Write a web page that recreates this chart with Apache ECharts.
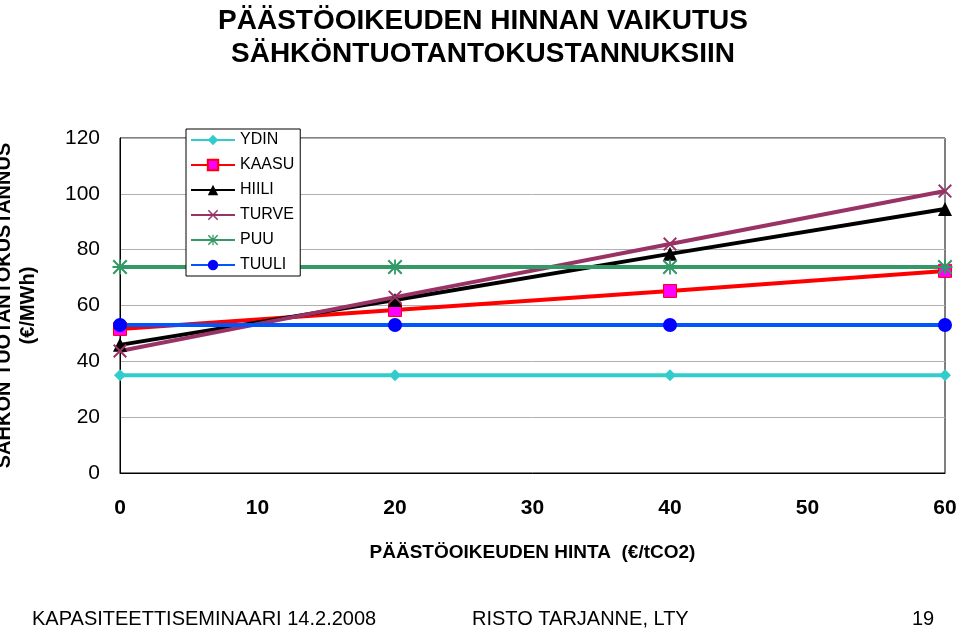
<!DOCTYPE html>
<html><head><meta charset="utf-8">
<script src="https://cdn.jsdelivr.net/npm/echarts@6/dist/echarts.min.js"></script>
<style>html,body{margin:0;padding:0;background:#fff}#c{width:960px;height:629px}</style>
</head><body><div id="c"></div>
<script>
const xValues = [0, 20, 40, 60];
const seriesNames = ['YDIN','KAASU','HIILI','TURVE','PUU','TUULI'];
const ydin  = [35, 35, 35, 35];
const kaasu = [51.6, 58.4, 65.2, 72.4];
const hiili = [45.9, 62, 78.5, 94.6];
const turve = [43.7, 63, 82, 101];
const puu   = [73.8, 73.8, 73.8, 73.8];
const tuuli = [53, 53, 53, 53];
const xTicks = [0,10,20,30,40,50,60];
const yTicks = [0,20,40,60,80,100,120];

const colors = ['#33CCCC','#FF0000','#000000','#993366','#339966','#0055FF'];
const markerFill = ['#33CCCC','#FF00FF','#000000','#993366','#339966','#0000FF'];
const xShape = 'path://M0,1L1,0L5,4L9,0L10,1L6,5L10,9L9,10L5,6L1,10L0,9L4,5Z';
const starShape = 'path://M0,1L1,0L5,4L9,0L10,1L6,5L10,9L9,10L5,6L1,10L0,9L4,5Z M4.4,0H5.6V10H4.4Z M0,4.4H10V5.6H0Z';
const symbols = ['diamond','rect','triangle',xShape,starShape,'circle'];
const sizes = [12,13,14,14,15,14];
const data = [ydin,kaasu,hiili,turve,puu,tuuli];

const font = 'Liberation Sans, Arial, sans-serif';
const chart = echarts.init(document.getElementById('c'));
chart.setOption({
  animation:false,
  backgroundColor:'#fff',
  title:{text:'PÄÄSTÖOIKEUDEN HINNAN VAIKUTUS\nSÄHKÖNTUOTANTOKUSTANNUKSIIN',left:478,textAlign:'center',top:0,
    textStyle:{fontFamily:font,fontSize:28,fontWeight:'bold',color:'#000',lineHeight:33}},
  legend:{orient:'vertical',left:186,top:129,itemGap:9,itemWidth:44,itemHeight:13,
    backgroundColor:'#fff',borderColor:'#000',borderWidth:1,padding:[3,6,3,4],
    textStyle:{fontFamily:font,fontSize:16,color:'#000'},data:seriesNames},
  grid:{left:120,right:15,top:138,bottom:156,show:true,borderColor:'#000',borderWidth:1,
    containLabel:false,outerBoundsMode:'none'},
  xAxis:{type:'value',min:0,max:60,interval:10,
    name:'PÄÄSTÖOIKEUDEN HINTA  (€/tCO2)',nameLocation:'middle',nameGap:70,
    nameTextStyle:{fontFamily:font,fontSize:19,fontWeight:'bold',color:'#000'},
    axisLine:{lineStyle:{color:'#000'}},axisTick:{show:false},splitLine:{show:false},
    axisLabel:{fontFamily:font,fontSize:21,fontWeight:'bold',color:'#000',margin:25}},
  yAxis:{type:'value',min:0,max:120,interval:20,
    name:'SÄHKÖN TUOTANTOKUSTANNUS\n(€/MWh)',nameLocation:'middle',nameGap:80,nameRotate:90,
    nameTextStyle:{fontFamily:font,fontSize:20,fontWeight:'bold',color:'#000',lineHeight:24},
    axisLine:{show:true,lineStyle:{color:'#000'}},axisTick:{show:false},
    splitLine:{lineStyle:{color:'#b0b0b0'}},
    axisLabel:{fontFamily:font,fontSize:21,color:'#000',margin:20}},
  series: seriesNames.map((n,i)=>({
    name:n,type:'line',data:xValues.map((x,j)=>[x,data[i][j]]),
    symbol:symbols[i],symbolSize:sizes[i],showAllSymbol:true,
    lineStyle:{color:colors[i],width:4},
    itemStyle:{color:markerFill[i],borderColor:(i===1?'#FF0000':markerFill[i]),borderWidth:i===1?1:0}
  })),
  graphic:[
    {type:'text',left:32,top:609,style:{text:'KAPASITEETTISEMINAARI 14.2.2008',font:'20px '+font,fill:'#000'}},
    {type:'text',left:472,top:609,style:{text:'RISTO TARJANNE, LTY',font:'20px '+font,fill:'#000'}},
    {type:'text',left:912,top:609,style:{text:'19',font:'20px '+font,fill:'#000'}}
  ]
});
</script></body></html>
